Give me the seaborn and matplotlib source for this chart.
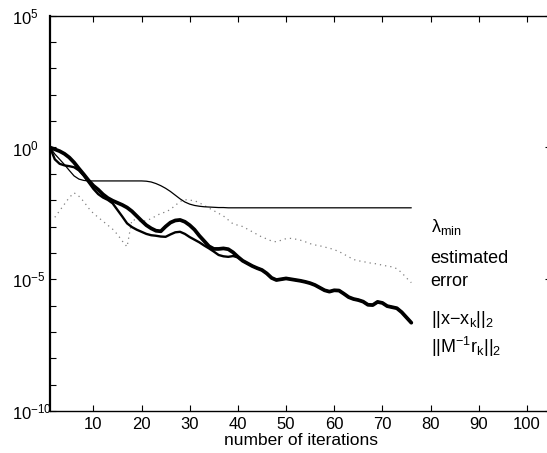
import numpy as np
import pandas as pd
import matplotlib
matplotlib.use("Agg")
import matplotlib.pyplot as plt
import seaborn as sns
from matplotlib.ticker import FixedLocator, NullFormatter

# ---------------- data (log10 of the plotted quantities) ----------------
iters = list(range(1, 77))

lam_min_log10 = [0.0, -0.25, -0.45, -0.65, -0.87, -1.08, -1.2, -1.25, -1.27, -1.27,
                 -1.27, -1.27, -1.27, -1.27, -1.27, -1.27, -1.27, -1.27, -1.27, -1.27,
                 -1.28, -1.31, -1.37, -1.45, -1.55, -1.67, -1.81, -1.95, -2.07, -2.15,
                 -2.2, -2.23, -2.25, -2.26, -2.27, -2.28, -2.28, -2.29, -2.29, -2.29,
                 -2.29, -2.29, -2.29, -2.29, -2.29, -2.29, -2.29, -2.29, -2.29, -2.29,
                 -2.29, -2.29, -2.29, -2.29, -2.29, -2.29, -2.29, -2.29, -2.29, -2.29,
                 -2.29, -2.29, -2.29, -2.29, -2.29, -2.29, -2.29, -2.29, -2.29, -2.29,
                 -2.29, -2.29, -2.29, -2.29, -2.29, -2.29]

est_iters = list(range(2, 77))
est_error_log10 = [-2.65, -2.4, -2.15, -1.9, -1.72, -1.85, -2.05, -2.3, -2.5, -2.65,
                   -2.8, -2.95, -3.1, -3.3, -3.55, -3.77, -2.75, -2.75, -2.8, -2.78,
                   -2.7, -2.6, -2.5, -2.45, -2.35, -2.2, -2.05, -1.98, -2.0, -2.02,
                   -2.1, -2.2, -2.3, -2.4, -2.5, -2.6, -2.75, -2.9, -2.95, -3.0,
                   -3.1, -3.2, -3.3, -3.4, -3.47, -3.55, -3.58, -3.52, -3.46, -3.45,
                   -3.48, -3.52, -3.58, -3.65, -3.7, -3.73, -3.78, -3.82, -3.88, -3.95,
                   -4.05, -4.15, -4.25, -4.3, -4.33, -4.37, -4.4, -4.42, -4.47, -4.5,
                   -4.53, -4.6, -4.75, -4.95, -5.13]

err_norm_log10 = [0.0, -0.07, -0.14, -0.24, -0.38, -0.57, -0.8, -1.02, -1.25, -1.45,
                  -1.6, -1.78, -1.92, -2.02, -2.1, -2.18, -2.28, -2.42, -2.6, -2.78,
                  -2.95, -3.07, -3.16, -3.18, -3.0, -2.85, -2.77, -2.75, -2.82, -2.95,
                  -3.12, -3.35, -3.55, -3.75, -3.85, -3.85, -3.83, -3.86, -3.98, -4.15,
                  -4.3, -4.4, -4.5, -4.58, -4.65, -4.78, -4.95, -5.03, -5.0, -4.97,
                  -5.0, -5.03, -5.06, -5.1, -5.15, -5.22, -5.32, -5.42, -5.47, -5.42,
                  -5.43, -5.55, -5.68, -5.75, -5.79, -5.85, -5.97, -5.98, -5.86, -5.9,
                  -6.02, -6.06, -6.1, -6.25, -6.45, -6.65]

res_norm_log10 = [0.0, -0.45, -0.62, -0.68, -0.71, -0.75, -0.87, -1.07, -1.32, -1.57,
                  -1.77, -1.9, -1.99, -2.12, -2.37, -2.62, -2.88, -3.02, -3.12, -3.2,
                  -3.28, -3.33, -3.35, -3.38, -3.39, -3.3, -3.22, -3.2, -3.28, -3.4,
                  -3.5, -3.6, -3.72, -3.83, -3.95, -4.08, -4.13, -4.15, -4.12, -4.17,
                  -4.3, -4.4, -4.5, -4.58, -4.65, -4.78, -4.95, -5.03, -5.0, -4.97,
                  -5.0, -5.03, -5.06, -5.1, -5.15, -5.22, -5.32, -5.42, -5.47, -5.42,
                  -5.43, -5.55, -5.68, -5.75, -5.79, -5.85, -5.97, -5.98, -5.86, -5.9,
                  -6.02, -6.06, -6.1, -6.25, -6.45, -6.65]

xtick_values = [10, 20, 30, 40, 50, 60, 70, 80, 90, 100]
xtick_labels = ["10", "20", "30", "40", "50", "60", "70", "80", "90", "100"]
ytick_values = [1e5, 1e0, 1e-5, 1e-10]
ytick_labels = [r"$10^{5}$", r"$10^{0}$", r"$10^{-5}$", r"$10^{-10}$"]

labels = [r"λ$_{\mathregular{min}}$", "estimated", "error",
          r"||x−x$_{\mathregular{k}}$||$_{\mathregular{2}}$",
          r"||M$^{\mathregular{-1}}$r$_{\mathregular{k}}$||$_{\mathregular{2}}$"]
label_log10 = [-3.21, -4.39, -5.24, -6.70, -7.80]
label_x = 80

# ---------------- style ----------------
sns.set_style("white")
plt.rcParams["font.family"] = ["Liberation Sans", "DejaVu Sans"]
plt.rcParams["mathtext.fontset"] = "custom"
plt.rcParams["mathtext.rm"] = "Liberation Sans"
plt.rcParams["mathtext.it"] = "Liberation Sans"
plt.rcParams["mathtext.bf"] = "Liberation Sans:bold"
plt.rcParams["mathtext.sf"] = "Liberation Sans"
plt.rcParams["text.color"] = "black"
plt.rcParams["axes.labelcolor"] = "black"
plt.rcParams["xtick.color"] = "black"
plt.rcParams["ytick.color"] = "black"

W, H = 547, 453
fig = plt.figure(figsize=(W / 100, H / 100), dpi=100)
ax = fig.add_axes([50 / W, (H - 411) / H, 501 / W, (411 - 15.7) / H])

df_lam = pd.DataFrame({"it": iters, "v": 10.0 ** np.array(lam_min_log10)})
df_est = pd.DataFrame({"it": est_iters, "v": 10.0 ** np.array(est_error_log10)})
df_err = pd.DataFrame({"it": iters, "v": 10.0 ** np.array(err_norm_log10)})
df_res = pd.DataFrame({"it": iters, "v": 10.0 ** np.array(res_norm_log10)})

sns.lineplot(data=df_est, x="it", y="v", ax=ax, color="0.5", lw=0.9,
             dashes=False, linestyle=(0, (1, 3.2)))
sns.lineplot(data=df_lam, x="it", y="v", ax=ax, color="black", lw=0.9)
sns.lineplot(data=df_res, x="it", y="v", ax=ax, color="black", lw=1.7)
sns.lineplot(data=df_err, x="it", y="v", ax=ax, color="black", lw=2.7)

ax.set_yscale("log")
ax.set_xlim(1, 105)
ax.set_ylim(1e-10, 1e5)

ax.set_xticks(xtick_values)
ax.set_xticklabels(xtick_labels)
ax.set_yticks(ytick_values)
ax.set_yticklabels(ytick_labels)
ax.yaxis.set_minor_locator(FixedLocator(10.0 ** np.arange(-10, 6)))
ax.yaxis.set_minor_formatter(NullFormatter())
ax.xaxis.set_minor_locator(FixedLocator([]))

ax.tick_params(axis="both", which="both", direction="in", length=4.5, width=0.8,
               colors="black", labelcolor="black", labelsize=12)
ax.tick_params(axis="x", which="major", top=True, bottom=True, pad=4)
ax.tick_params(axis="y", which="major", left=True, right=True, pad=27.4)
ax.tick_params(axis="y", which="minor", left=True, right=False)
for lab in ax.get_yticklabels():
    lab.set_horizontalalignment("left")

for side in ["left", "bottom", "top"]:
    ax.spines[side].set_visible(True)
    ax.spines[side].set_color("black")
    ax.spines[side].set_linewidth(1.0)
ax.spines["right"].set_visible(False)
ax.spines["left"].set_linewidth(1.6)

ax.set_xlabel("number of iterations", fontsize=12.5, labelpad=1, color="black")
ax.set_ylabel("")

for txt, ly in zip(labels, label_log10):
    ax.text(label_x, 10.0 ** ly, txt, fontsize=13, ha="left", va="baseline",
            color="black")

fig.savefig("out.png", dpi=100)
